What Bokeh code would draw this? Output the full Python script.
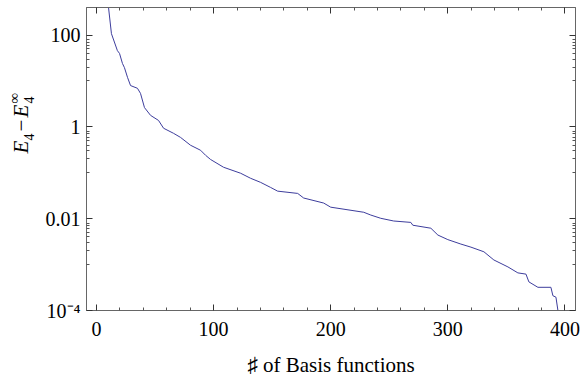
import math
from bokeh.plotting import figure
from bokeh.layouts import row
from bokeh.models import FixedTicker, LogAxis, LinearAxis, Range1d, CustomJSTickFormatter, Label
from bokeh.embed import file_html
from bokeh.resources import INLINE

# Data
n_basis = [8, 10.3, 12.8, 17.9, 19.7, 22.2, 23.9, 26.5, 29.1, 35.0, 37.6, 41.0, 46.2,
           53.0, 57.3, 65.8, 71.8, 80.3, 88.9, 93.2, 97.4, 108.5, 123.1, 131.6, 140.2,
           148.7, 154.7, 171.8, 176.9, 194.0, 200.0, 228.2, 234.2, 242.7, 253.8, 268.4,
           270.1, 285.5, 291.5, 300.0, 311.1, 319.7, 330.8, 339.3, 351.3, 359.8, 366.7,
           369.2, 376.9, 388.0, 389.7, 392.3, 394.0, 394.5]
energy_diff = [1200, 398, 107, 45.7, 39.8, 24.0, 19.5, 12.0, 7.94, 6.92, 5.37, 2.63, 1.78,
               1.38, 0.933, 0.724, 0.589, 0.398, 0.309, 0.240, 0.195, 0.132, 0.0977, 0.0759,
               0.0617, 0.0479, 0.0398, 0.0355, 0.0282, 0.0219, 0.0178, 0.0138, 0.0120,
               0.0102, 0.0089, 0.0083, 0.0072, 0.0062, 0.0044, 0.0035, 0.0028, 0.0024,
               0.0019, 0.00126, 0.00089, 0.00066, 0.00062, 0.00042, 0.00032, 0.00032,
               0.00021, 0.000195, 0.0001, 0.00005]

x_ticks = [0, 100, 200, 300, 400]
x_minor = [20, 40, 60, 80, 120, 140, 160, 180, 220, 240, 260, 280, 320, 340, 360, 380]
y_ticks = [1e-4, 1e-2, 1, 100]
y_tick_labels = {1e-4: "10\u207b\u2074", 1e-2: "0.01", 1: "1", 100: "100"}
y_minor = [m * t for t in y_ticks for m in (0.8, 0.7, 0.6, 0.5, 0.4, 0.3, 0.2, 0.1)]
x_title = "\u266f of Basis functions"

FONT = "Liberation Serif"
FRAME = "#666666"

# ---- main plot ----
p = figure(width=544, height=380, y_axis_type="log", output_backend="svg", title=None,
           toolbar_location=None, x_range=Range1d(-8.5, 409),
           y_range=Range1d(1e-4, 10 ** 2.6),
           min_border_left=46, min_border_right=9, min_border_top=7, min_border_bottom=70)
p.background_fill_color = "white"
p.border_fill_color = "white"
p.outline_line_color = FRAME
p.grid.visible = False

p.line(n_basis, energy_diff, line_color="#3d3d9c", line_width=1)

xt = FixedTicker(ticks=x_ticks, minor_ticks=x_minor)
yt = FixedTicker(ticks=y_ticks, minor_ticks=y_minor)

def style(ax, labels=True):
    ax.axis_line_color = FRAME
    ax.major_tick_line_color = "#333333"
    ax.minor_tick_line_color = "#555555"
    ax.major_tick_in = 6
    ax.major_tick_out = 0
    ax.minor_tick_in = 3
    ax.minor_tick_out = 0
    ax.major_label_text_font = FONT
    ax.major_label_text_font_size = "20px"
    ax.major_label_text_color = "black"
    if not labels:
        ax.formatter = CustomJSTickFormatter(code="return '';")
        ax.major_label_standoff = 0

xa = p.xaxis[0]
xa.ticker = xt
style(xa)
xa.major_label_standoff = 11
xa.axis_label = x_title
xa.axis_label_text_font = FONT
xa.axis_label_text_font_style = "normal"
xa.axis_label_text_font_size = "21px"
xa.axis_label_text_color = "black"
xa.axis_label_standoff = 14

ya = p.yaxis[0]
ya.ticker = yt
style(ya)
ya.major_label_standoff = 6
ya.major_label_overrides = y_tick_labels

top = LinearAxis(ticker=xt)
style(top, labels=False)
p.add_layout(top, "above")
right = LogAxis(ticker=yt)
style(right, labels=False)
p.add_layout(right, "right")

# ---- y-axis title strip: E_4 - E_4^inf built from rotated Label pieces ----
H = 380
yl = figure(width=40, height=H, title=None, output_backend="svg", toolbar_location=None,
            x_range=Range1d(0, 40), y_range=Range1d(0, H),
            x_axis_location=None, y_axis_location=None,
            min_border=0, min_border_left=0, min_border_right=0,
            min_border_top=0, min_border_bottom=0)
yl.outline_line_color = None
yl.grid.visible = False
yl.background_fill_color = "white"
yl.border_fill_color = "white"

# offset of the strip's frame, found empirically
FRAME_BOTTOM = 342
ang = math.pi / 2
def ypiece(txt, sx, sy, size, style_):
    yl.add_layout(Label(x=sx, y=FRAME_BOTTOM - sy, x_units="screen", y_units="screen",
                        text=txt, angle=ang, text_font=FONT, text_font_size=size,
                        text_font_style=style_, text_color="black",
                        text_baseline="alphabetic", text_align="left"))
ypiece("E", 20, 185, "21px", "italic")
ypiece("4", 28, 172, "14px", "normal")
ypiece("\u2212", 20, 163, "21px", "normal")
ypiece("E", 20, 149, "21px", "italic")
ypiece("4", 28, 135, "14px", "normal")
ypiece("\u221e", 13, 135, "15px", "normal")

layout = row(yl, p)
open("out.html", "w").write(file_html(layout, INLINE))
